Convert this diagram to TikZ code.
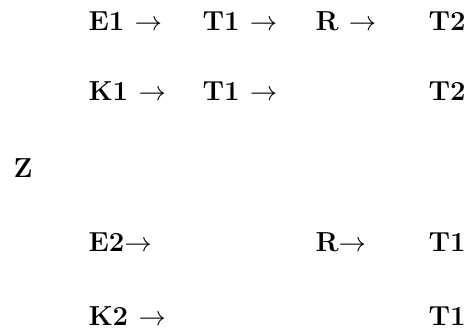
\documentclass[tikz,border=0pt]{standalone}
\usepackage{tikz}
\usetikzlibrary{positioning}
\tikzset{lbl/.style={anchor=base west,inner sep=0pt,font=\fontsize{11}{13}\selectfont\bfseries}}

\begin{document}
\begin{tikzpicture}[x=0.4pt,y=-0.4pt]
\useasboundingbox (0,0) rectangle (467,329);
\node[lbl] (ea) at (88,30) {E1 $\rightarrow$};
\node[lbl] (ta) at (202,30) {T1 $\rightarrow$};
\node[lbl] (ra) at (315,30) {R $\rightarrow$};
\node[lbl] (tb) at (428,30) {T2};
\node[lbl] (ka) at (88,100) {K1 $\rightarrow$};
\node[lbl] (tc) at (202,100) {T1 $\rightarrow$};
\node[lbl] (td) at (428,100) {T2};
\node[lbl] (z) at (13,177) {Z};
\node[lbl] (eb) at (88,251) {E2$\rightarrow$};
\node[lbl] (rb) at (315,251) {R$\rightarrow$};
\node[lbl] (te) at (428,251) {T1};
\node[lbl] (kb) at (88,325) {K2 $\rightarrow$};
\node[lbl] (tf) at (428,325) {T1};
\end{tikzpicture}
\end{document}
